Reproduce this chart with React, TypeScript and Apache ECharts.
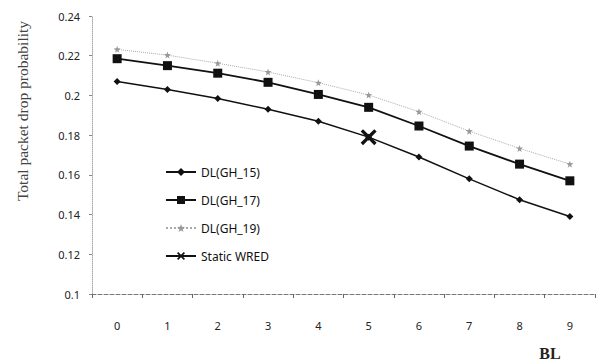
import React, { useEffect, useRef } from "react";
import * as echarts from "echarts";

const categories = ["0", "1", "2", "3", "4", "5", "6", "7", "8", "9"];
const gh15 = [0.207, 0.203, 0.1985, 0.193, 0.187, 0.179, 0.169, 0.158, 0.1475, 0.139];
const gh17 = [0.2185, 0.215, 0.2112, 0.2066, 0.2005, 0.194, 0.1846, 0.1745, 0.1654, 0.157];
const gh19 = [0.2232, 0.2203, 0.2162, 0.2118, 0.2064, 0.2002, 0.1918, 0.182, 0.1733, 0.1654];
const staticWred: (number | string)[] = ["-", "-", "-", "-", "-", 0.179, "-", "-", "-", "-"];
const yMin = 0.1;
const yMax = 0.24;
const yStep = 0.02;

const X_PATH_BOLD = "path://M1.5,0L5,3.5L8.5,0L10,1.5L6.5,5L10,8.5L8.5,10L5,6.5L1.5,10L0,8.5L3.5,5L0,1.5Z";
const STAR_PATH = "path://M5,0L6.2,3.5L10,3.8L7,6.1L8,10L5,7.8L2,10L3,6.1L0,3.8L3.8,3.5Z";

export default function App() {
  const ref = useRef<HTMLDivElement>(null);
  useEffect(() => {
    if (!ref.current) return;
    const chart = echarts.init(ref.current, undefined, { renderer: "svg" });
    chart.setOption({
      animation: false,
      backgroundColor: "#fff",
      grid: { left: 92, right: 5, top: 16, bottom: 66 },
      legend: {
        orient: "vertical",
        left: 160,
        top: 161,
        itemGap: 16,
        itemWidth: 30,
        itemHeight: 10,
        textStyle: { fontFamily: "Noto Sans", fontSize: 12, color: "#111" },
        data: ["DL(GH_15)", "DL(GH_17)", "DL(GH_19)", "Static WRED"],
      },
      xAxis: {
        type: "category",
        data: categories,
        axisLine: { lineStyle: { color: "#777", type: "dashed", width: 1 } },
        axisTick: { show: true, length: 4, lineStyle: { color: "#666" } },
        axisLabel: { fontFamily: "Noto Sans", fontSize: 11, color: "#222", margin: 26 },
      },
      yAxis: {
        type: "value",
        min: yMin,
        max: yMax,
        interval: yStep,
        splitLine: { show: false },
        axisLine: { show: true, lineStyle: { color: "#aaa", type: "dotted", width: 1 } },
        axisTick: { show: true, length: 3, lineStyle: { color: "#888" } },
        axisLabel: {
          fontFamily: "Noto Sans",
          fontSize: 11,
          color: "#222",
          margin: 12,
          formatter: (v: number) => String(parseFloat(v.toFixed(2))),
        },
      },
      graphic: [
        {
          type: "text",
          x: 22,
          y: 111,
          rotation: Math.PI / 2,
          style: {
            text: "Total packet drop probability",
            font: "15.5px 'Liberation Serif'",
            fill: "#444",
            align: "center",
            verticalAlign: "middle",
          },
        },
        {
          type: "text",
          x: 550,
          y: 353,
          style: {
            text: "BL",
            font: "bold 16px 'Liberation Serif'",
            fill: "#222",
            align: "center",
            verticalAlign: "middle",
          },
        },
      ],
      series: [
        {
          name: "DL(GH_15)",
          type: "line",
          data: gh15,
          symbol: "diamond",
          symbolSize: 7,
          lineStyle: { color: "#111", width: 1.5 },
          itemStyle: { color: "#111" },
        },
        {
          name: "DL(GH_17)",
          type: "line",
          data: gh17,
          symbol: "rect",
          symbolSize: 9,
          lineStyle: { color: "#111", width: 1.8 },
          itemStyle: { color: "#111" },
        },
        {
          name: "DL(GH_19)",
          type: "line",
          data: gh19,
          symbol: STAR_PATH,
          symbolSize: 7,
          lineStyle: { color: "#aaa", width: 1, type: "dotted" },
          itemStyle: { color: "#999" },
        },
        {
          name: "Static WRED",
          type: "line",
          data: staticWred,
          symbol: X_PATH_BOLD,
          symbolSize: 16,
          lineStyle: { color: "#111", width: 1.5 },
          itemStyle: { color: "#111" },
        },
      ],
    });
    return () => chart.dispose();
  }, []);
  return (
    <div
      ref={ref}
      style={{ position: "fixed", left: 0, top: 0, width: 600, height: 360, background: "#fff" }}
    />
  );
}
